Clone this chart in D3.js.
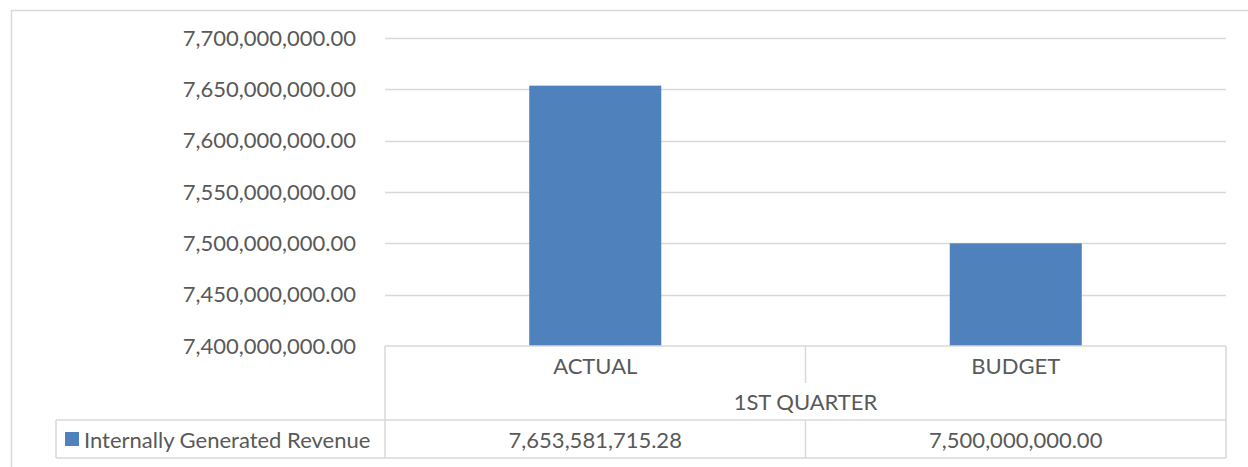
<!DOCTYPE html>
<html>
<head>
<meta charset="utf-8">
<script src="https://cdn.jsdelivr.net/npm/d3@7/dist/d3.min.js"></script>
<style>
  html, body { margin: 0; padding: 0; background: #fff; }
  svg { display: block; }
  text { font-family: Lato, "Open Sans", sans-serif; fill: #595959; }
</style>
</head>
<body>
<svg id="chart" width="1248" height="467"></svg>
<script>
const categories = ["ACTUAL", "BUDGET"];
const groupLabel = "1ST QUARTER";
const seriesName = "Internally Generated Revenue";
const seriesValues = [7653581715.28, 7500000000.00];
const valueLabels = ["7,653,581,715.28", "7,500,000,000.00"];
const yTicks = [7400000000, 7450000000, 7500000000, 7550000000, 7600000000, 7650000000, 7700000000];

(function () {
const plotL = 385, plotR = 1226, plotT = 38, plotB = 346;
const gridColor = "#D9D9D9", barColor = "#4F81BD", fontSize = 22;

const svg = d3.select("#chart");

// outer chart border (extends past window)
svg.append("rect").attr("x", 11.5).attr("y", 10.5).attr("width", 1300).attr("height", 600)
  .attr("fill", "none").attr("stroke", gridColor).attr("stroke-width", 1.5);

const x = d3.scaleBand().domain(categories).range([plotL, plotR]).paddingInner(0.686).paddingOuter(0.343);
const xCat = d3.scaleBand().domain(categories).range([plotL, plotR]);
const y = d3.scaleLinear().domain([7400000000, 7700000000]).range([plotB, plotT]);

const fmt = d3.format(",.2f");

// gridlines
svg.append("g").selectAll("line").data(yTicks.filter(t => t !== 7400000000)).join("line")
  .attr("x1", plotL).attr("x2", plotR)
  .attr("y1", d => Math.round(y(d)) + 0.5).attr("y2", d => Math.round(y(d)) + 0.5)
  .attr("stroke", gridColor).attr("stroke-width", 1.5);

// y-axis labels
svg.append("g").selectAll("text").data(yTicks).join("text")
  .attr("x", 356).attr("y", d => y(d)).attr("dy", "0.35em")
  .attr("text-anchor", "end").attr("font-size", fontSize)
  .text(d => fmt(d));

// bars
svg.append("g").selectAll("rect").data(seriesValues).join("rect")
  .attr("x", (d, i) => x(categories[i])).attr("width", x.bandwidth())
  .attr("y", d => y(d)).attr("height", d => plotB - y(d))
  .attr("fill", barColor);

// data table
const tbl = svg.append("g").attr("stroke", gridColor).attr("stroke-width", 1.5).attr("fill", "none");
const rowTop = plotB, rowMid1 = 383, rowMid2 = 420, rowBot = 458, legLeft = 56;
tbl.append("line").attr("x1", plotL).attr("x2", plotR).attr("y1", rowTop).attr("y2", rowTop);
tbl.append("line").attr("x1", legLeft).attr("x2", plotR).attr("y1", rowMid2).attr("y2", rowMid2);
tbl.append("line").attr("x1", legLeft).attr("x2", plotR).attr("y1", rowBot).attr("y2", rowBot);
tbl.append("line").attr("x1", legLeft).attr("x2", legLeft).attr("y1", rowMid2).attr("y2", rowBot);
tbl.append("line").attr("x1", plotL).attr("x2", plotL).attr("y1", rowTop).attr("y2", rowBot);
tbl.append("line").attr("x1", plotR).attr("x2", plotR).attr("y1", rowTop).attr("y2", rowBot);
const divX = xCat(categories[1]);
tbl.append("line").attr("x1", divX).attr("x2", divX).attr("y1", rowTop).attr("y2", rowMid1);
tbl.append("line").attr("x1", divX).attr("x2", divX).attr("y1", rowMid2).attr("y2", rowBot);

// category labels
svg.append("g").selectAll("text").data(categories).join("text")
  .attr("x", d => xCat(d) + xCat.bandwidth() / 2).attr("y", (rowTop + rowMid1) / 2 + 2).attr("dy", "0.35em")
  .attr("text-anchor", "middle").attr("font-size", fontSize).text(d => d);

svg.append("text").attr("x", (plotL + plotR) / 2).attr("y", (rowMid1 + rowMid2) / 2 + 1).attr("dy", "0.35em")
  .attr("text-anchor", "middle").attr("font-size", fontSize).text(groupLabel);

// values row
svg.append("g").selectAll("text").data(valueLabels).join("text")
  .attr("x", (d, i) => xCat(categories[i]) + xCat.bandwidth() / 2).attr("y", (rowMid2 + rowBot) / 2 + 1).attr("dy", "0.35em")
  .attr("text-anchor", "middle").attr("font-size", fontSize).text(d => d);

// legend key
svg.append("rect").attr("x", 65).attr("y", 432).attr("width", 14).attr("height", 14).attr("fill", barColor);
svg.append("text").attr("x", 84).attr("y", (rowMid2 + rowBot) / 2 + 1).attr("dy", "0.35em")
  .attr("font-size", fontSize).text(seriesName);
})();
</script>
</body>
</html>
